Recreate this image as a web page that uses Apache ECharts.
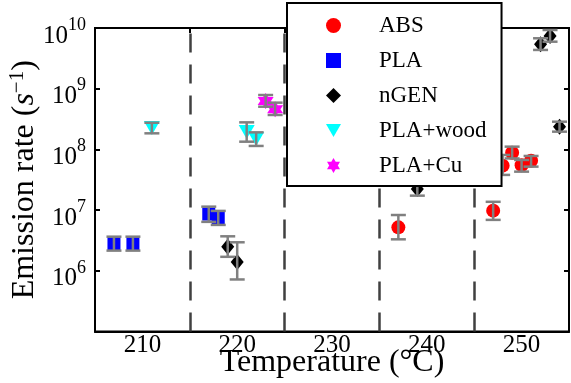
<!DOCTYPE html>
<html>
<head>
<meta charset="utf-8">
<script src="https://cdn.jsdelivr.net/npm/echarts@6/dist/echarts.min.js"></script>
<style>
  html, body { margin: 0; padding: 0; background: #fff; }
  #main { width: 571px; height: 383px; }
</style>
</head>
<body>
<div id="main"></div>
<script>
// temperature (°C), emission rate (s^-1), error bar low / high
const absTemp = [237, 247, 248, 249, 250, 251];
const absRate = [5.2e6, 9.8e6, 5.4e7, 8.8e7, 5.5e7, 6.5e7];
const absLow  = [3.3e6, 6.9e6, 3.8e7, 7.1e7, 4.3e7, 5.2e7];
const absHigh = [8.3e6, 1.37e7, 8.1e7, 1.11e8, 6.7e7, 7.8e7];

const plaTemp = [207, 209, 217, 218];
const plaRate = [2.8e6, 2.8e6, 8.6e6, 7.4e6];
const plaLow  = [2.15e6, 2.15e6, 6.4e6, 5.7e6];
const plaHigh = [3.65e6, 3.65e6, 1.14e7, 9.7e6];

const ngenTemp = [219, 220, 239, 241, 252, 253, 254];
const ngenRate = [2.5e6, 1.4e6, 2.23e7, 4.75e7, 5.4e9, 7.4e9, 2.37e8];
const ngenLow  = [1.7e6, 7.2e5, 1.73e7, 3.9e7, 4.35e9, 5.95e9, 1.96e8];
const ngenHigh = [3.7e6, 2.95e6, 2.87e7, 5.9e7, 6.77e9, 9.27e9, 2.86e8];

const woodTemp = [211, 221, 222];
const woodRate = [2.25e8, 1.94e8, 1.48e8];
const woodLow  = [1.84e8, 1.34e8, 1.14e8];
const woodHigh = [2.75e8, 2.79e8, 1.91e8];

const cuTemp = [223, 224];
const cuRate = [6.3e8, 4.6e8];
const cuLow  = [5.05e8, 3.69e8];
const cuHigh = [7.87e8, 5.89e8];

const dividers = [215, 225, 235, 245];

const FONT = '"Liberation Serif", "DejaVu Serif", serif';
const triDown = 'path://M0,0L10,0L5,8.66Z';
const hexStar = 'path://M0,-10L8.66,5L-8.66,5Z M0,10L-8.66,-5L8.66,-5Z';

function frame() {
  return { show: true, onZero: false, lineStyle: { color: '#000', width: 2 } };
}
function inTick() {
  return { show: true, inside: true, length: 5, lineStyle: { color: '#000', width: 2 } };
}

function points(name, t, v, symbol, size, color) {
  return {
    name: name,
    type: 'scatter',
    symbol: symbol,
    symbolSize: size,
    itemStyle: { color: color, opacity: 1 },
    data: t.map((x, i) => [x, v[i]]),
    z: 3
  };
}

function errorBars(t, low, high) {
  return {
    type: 'custom',
    silent: true,
    data: t.map((x, i) => [x, low[i], high[i]]),
    encode: { x: 0, y: [1, 2] },
    renderItem: function (params, api) {
      const top = api.coord([api.value(0), api.value(2)]);
      const bot = api.coord([api.value(0), api.value(1)]);
      const hw = 7.5;
      const style = { stroke: '#808080', lineWidth: 2.5 };
      return {
        type: 'group',
        children: [
          { type: 'line', shape: { x1: top[0], y1: top[1], x2: bot[0], y2: bot[1] }, style: style },
          { type: 'line', shape: { x1: top[0] - hw, y1: top[1], x2: top[0] + hw, y2: top[1] }, style: style },
          { type: 'line', shape: { x1: bot[0] - hw, y1: bot[1], x2: bot[0] + hw, y2: bot[1] }, style: style }
        ]
      };
    },
    z: 5
  };
}

const chart = echarts.init(document.getElementById('main'));

const absSeries = points('ABS', absTemp, absRate, 'circle', 14, '#ff0000');
absSeries.markLine = {
  silent: true,
  symbol: 'none',
  label: { show: false },
  lineStyle: { color: '#404040', width: 2.5, type: [19, 12] },
  data: dividers.map(d => ({ xAxis: d }))
};

chart.setOption({
  animation: false,
  grid: {
    left: 95, right: 2, top: 28, bottom: 51.5,
    outerBoundsMode: 'none',
    show: true, borderColor: '#000', borderWidth: 2
  },
  legend: {
    orient: 'vertical',
    left: 287, top: 3,
    padding: [11, 15, 9, 39],
    itemGap: 12,
    itemWidth: 15, itemHeight: 15,
    itemTextGap: 5,
    borderColor: '#000', borderWidth: 2, borderRadius: 0,
    backgroundColor: '#fff',
    z: 10,
    data: ['ABS', 'PLA', 'nGEN', 'PLA+wood', 'PLA+Cu'],
    textStyle: { fontFamily: FONT, fontSize: 23, color: '#000', lineHeight: 15, padding: [0, 0, 0, 33] }
  },
  xAxis: [{
    type: 'value', min: 205, max: 255, interval: 5, position: 'bottom',
    axisLine: frame(),
    axisTick: { show: false },
    splitLine: { show: false },
    axisLabel: {
      margin: 1,
      fontFamily: FONT, fontSize: 25, color: '#000',
      formatter: v => (v % 10 === 0 && v > 205 && v < 255) ? String(v) : ''
    },
    name: 'Temperature (°C)',
    nameLocation: 'middle',
    nameMoveOverlap: false,
    nameGap: 15,
    nameTextStyle: { fontFamily: FONT, fontSize: 32, color: '#000' }
  }, {
    type: 'value', min: 205, max: 255, interval: 10, position: 'top',
    axisLine: frame(),
    axisTick: inTick(),
    axisLabel: { show: false },
    splitLine: { show: false }
  }],
  yAxis: [{
    type: 'log', logBase: 10, min: 1e5, max: 1e10, position: 'left',
    axisLine: frame(),
    axisTick: inTick(),
    splitLine: { show: false },
    minorTick: { show: false },
    axisLabel: {
      margin: 9,
      formatter: function (v) {
        const e = Math.round(Math.log10(v));
        if (e <= 5) return '';
        return '{b|10}{s|' + e + '}';
      },
      rich: {
        b: { fontFamily: FONT, fontSize: 25, color: '#000', lineHeight: 25, padding: [16, 0, 0, 0], verticalAlign: 'middle' },
        s: { fontFamily: FONT, fontSize: 18, color: '#000', lineHeight: 18, padding: [0, 0, 6, 0], verticalAlign: 'middle' }
      }
    },
    name: '{n|Emission rate (}{i|s}{s|−1}{n|)}',
    nameLocation: 'middle',
    nameMoveOverlap: false,
    nameGap: 54,
    nameTextStyle: {
      rich: {
        n: { fontFamily: FONT, fontSize: 32, color: '#000', lineHeight: 32, verticalAlign: 'middle' },
        i: { fontFamily: FONT, fontSize: 32, fontStyle: 'italic', color: '#000', lineHeight: 32, verticalAlign: 'middle' },
        s: { fontFamily: FONT, fontSize: 21, color: '#000', lineHeight: 21, padding: [0, 0, 16, 0], verticalAlign: 'middle' }
      }
    }
  }, {
    type: 'log', logBase: 10, min: 1e5, max: 1e10, position: 'right',
    axisLine: frame(),
    axisTick: inTick(),
    axisLabel: { show: false },
    splitLine: { show: false },
    minorTick: { show: false }
  }],
  series: [
    absSeries,
    points('PLA', plaTemp, plaRate, 'rect', 13, '#0000ff'),
    points('nGEN', ngenTemp, ngenRate, 'diamond', [13, 16], '#000000'),
    points('PLA+wood', woodTemp, woodRate, triDown, [16, 14], '#00ffff'),
    points('PLA+Cu', cuTemp, cuRate, hexStar, 16, '#ff00ff'),
    errorBars(absTemp, absLow, absHigh),
    errorBars(plaTemp, plaLow, plaHigh),
    errorBars(ngenTemp, ngenLow, ngenHigh),
    errorBars(woodTemp, woodLow, woodHigh),
    errorBars(cuTemp, cuLow, cuHigh)
  ]
});
</script>
</body>
</html>
